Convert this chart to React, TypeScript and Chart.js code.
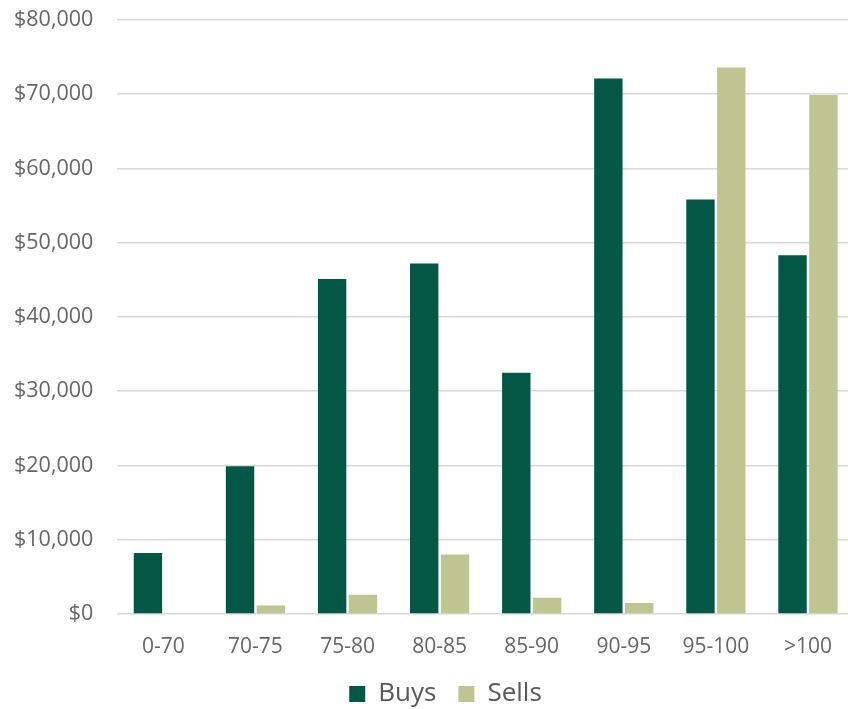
import React, { useEffect, useRef } from "react";
import { Chart, registerables } from "chart.js";

Chart.register(...registerables);

const categories = ["0-70", "70-75", "75-80", "80-85", "85-90", "90-95", "95-100", ">100"];
const buys = [8200, 19900, 45100, 47200, 32500, 72100, 55800, 48300];
const sells = [0, 1150, 2600, 8000, 2200, 1480, 73600, 69900];
const yTicks = [0, 10000, 20000, 30000, 40000, 50000, 60000, 70000, 80000];

const FONT = "'Open Sans', 'DejaVu Sans', sans-serif";

// nudge the legend block to where the reference puts it, and let the
// category labels draw past the (compressed) x-axis box
const layoutTweak = {
  id: "layoutTweak",
  afterLayout(chart: any) {
    const l = chart.legend;
    if (l) {
      l.left += 15;
      l.right += 15;
      l.top += 8;
      l.bottom += 8;
    }
    const x = chart.scales.x;
    if (x) {
      x.bottom += 30;
      x.height += 30;
    }
  },
};

export default function App() {
  const ref = useRef<HTMLCanvasElement>(null);
  useEffect(() => {
    document.body.style.margin = "0";
    let chart: any = null;
    let cancelled = false;
    const make = () => {
      if (cancelled || !ref.current) return;
      chart = new Chart(ref.current, {
        type: "bar",
        data: {
          labels: categories,
          datasets: [
            { label: "Buys", data: buys, backgroundColor: "#035845" },
            { label: "Sells", data: sells, backgroundColor: "#bec591" },
          ],
        },
        plugins: [layoutTweak],
        options: {
          animation: false,
          responsive: true,
          maintainAspectRatio: false,
          datasets: { bar: { categoryPercentage: 0.67, barPercentage: 0.92 } },
          layout: { padding: { left: 7, right: 2, top: 0, bottom: 0 } },
          plugins: {
            tooltip: { enabled: false },
            legend: {
              position: "bottom",
              labels: {
                boxWidth: 16,
                boxHeight: 16,
                padding: 22,
                color: "#595959",
                font: { family: FONT, size: 26 },
              },
            },
          },
          scales: {
            x: {
              grid: { display: false, drawTicks: false },
              border: { display: false },
              ticks: { color: "#666666", font: { family: FONT, size: 21 }, padding: 20, maxRotation: 0 },
              afterFit: (scale: any) => {
                scale.height = 37;
              },
            },
            y: {
              min: 0,
              max: 80000,
              afterBuildTicks: (axis: any) => {
                axis.ticks = yTicks.map((v) => ({ value: v }));
              },
              grid: {
                color: "#d9d9d9",
                lineWidth: 1.5,
                drawTicks: true,
                tickLength: 17,
                tickColor: "rgba(0,0,0,0)",
              },
              border: { display: false },
              ticks: {
                color: "#666666",
                font: { family: FONT, size: 21.5 },
                padding: 7,
                callback: (v: any) => "$" + Number(v).toLocaleString("en-US"),
              },
            },
          },
        },
      });
    };
    const fonts: any = (document as any).fonts;
    Promise.all([fonts.load("21px 'Open Sans'"), fonts.load("26px 'Open Sans'")])
      .then(() => make())
      .catch(() => make());
    return () => {
      cancelled = true;
      if (chart) chart.destroy();
    };
  }, []);
  return (
    <div style={{ width: 848, height: 709, overflow: "hidden", position: "relative" }}>
      <div style={{ width: 856, height: 709, position: "absolute", left: 0, top: 0 }}>
        <canvas ref={ref} />
      </div>
    </div>
  );
}
